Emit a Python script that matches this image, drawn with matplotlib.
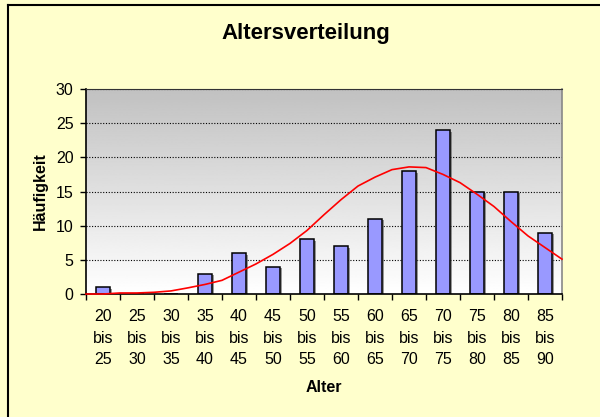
import numpy as np
import matplotlib
matplotlib.use("Agg")
import matplotlib.pyplot as plt
import matplotlib.patheffects as pe

plt.rcParams['font.family'] = ['Liberation Sans', 'DejaVu Sans']

# age classes and counts
lower = [20, 25, 30, 35, 40, 45, 50, 55, 60, 65, 70, 75, 80, 85]
upper = [25, 30, 35, 40, 45, 50, 55, 60, 65, 70, 75, 80, 85, 90]
counts = [1, 0, 0, 3, 6, 4, 8, 7, 11, 18, 24, 15, 15, 9]

# fitted curve, sampled at class edges and class centres (in class units)
curve_x = np.arange(0, 14.5, 0.5)
curve_y = [0, 0, 0.15, 0.15, 0.25, 0.45, 0.9, 1.4, 2.0, 3.2, 4.4, 5.8, 7.4, 9.3,
           11.6, 13.8, 15.8, 17.1, 18.2, 18.6, 18.5, 17.5, 16.3, 14.6, 12.8,
           10.6, 8.5, 6.8, 5.1]

labels = [f"{a}\nbis\n{b}" for a, b in zip(lower, upper)]

fig = plt.figure(figsize=(6, 4.17), dpi=100)
fig.patch.set_facecolor('#FFFFCC')

ax = fig.add_axes([86/600, 1-294/417, (562-86)/600, (294-89)/417])
ax.set_xlim(0, 14)
ax.set_ylim(0, 30)

# grey to white gradient behind the plot
grad = np.linspace(0, 1, 256).reshape(-1, 1)
ax.imshow(grad, extent=[0, 14, 0, 30], aspect='auto', cmap='gray',
          vmin=-3.1, vmax=1, origin='upper', zorder=0)

for v in [5, 10, 15, 20, 25, 30]:
    ax.axhline(v, color='black', lw=0.8, ls=(0, (1, 1.5)), zorder=1)

centers = np.arange(len(counts)) + 0.5
bars = ax.bar(centers, counts, width=0.42, color='#9999FF', edgecolor='black',
              linewidth=1.1, zorder=2)
for b in bars:
    b.set_path_effects([pe.SimplePatchShadow(offset=(1.2, -1.2), shadow_rgbFace='#555555', alpha=0.6),
                        pe.Normal()])

ax.plot(curve_x, curve_y, color='red', lw=1.2, zorder=3, clip_on=False)

ax.set_xticks(range(0, 15))
ax.set_xticklabels([])
ax.set_xticks(centers, minor=True)
ax.set_xticklabels(labels, minor=True, fontsize=11.5, linespacing=1.52)
ax.tick_params(axis='x', which='minor', length=0, pad=11)
ax.tick_params(axis='x', which='major', length=4, width=1, direction='out')
ax.set_yticks(range(0, 31, 5))
ax.tick_params(axis='y', length=4, width=1, direction='out', pad=5, labelsize=11.5)

for s in ['left', 'bottom']:
    ax.spines[s].set_color('black')
    ax.spines[s].set_linewidth(1.2)
ax.spines['top'].set_color('#333333')
ax.spines['right'].set_color('#888888')
ax.spines['right'].set_linewidth(1.2)

fig.text(306/600, 1-34/417, 'Altersverteilung', ha='center', va='center',
         fontsize=16, fontweight='bold')
fig.text(324/600, 1-387/417, 'Alter', ha='center', va='center',
         fontsize=11.5, fontweight='bold')
fig.text(40/600, 1-191/417, 'Häufigkeit', ha='center', va='center',
         fontsize=11.5, fontweight='bold', rotation=90)

# chart border (only left and top edges visible in the crop)
fig.add_artist(plt.Line2D([7.5/600, 7.5/600], [0, 1-5/417], color='black', lw=1.5))
fig.add_artist(plt.Line2D([7.5/600, 1], [1-5/417, 1-5/417], color='black', lw=1.5))

fig.savefig('out.png', dpi=100, facecolor=fig.get_facecolor())
